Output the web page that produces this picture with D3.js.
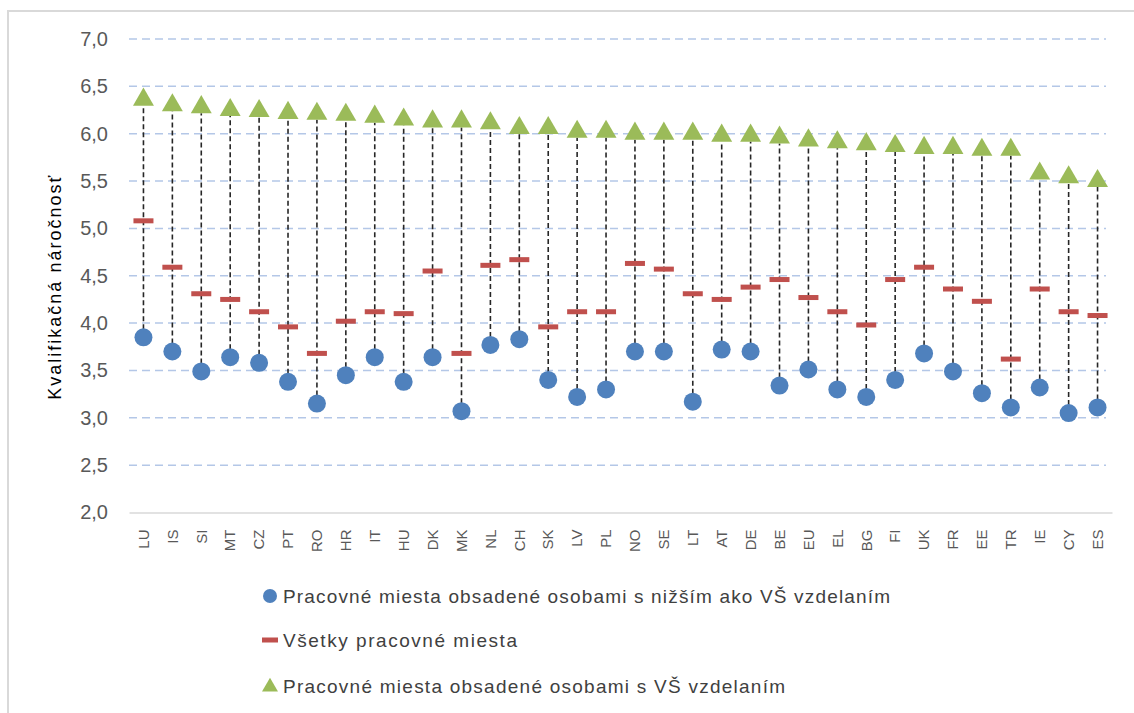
<!DOCTYPE html>
<html>
<head>
<meta charset="utf-8">
<script src="https://cdn.jsdelivr.net/npm/d3@7"></script>
<style>
  html, body { margin: 0; padding: 0; background: #fff; }
  svg { display: block; font-family: "Liberation Sans", Arial, sans-serif; }
</style>
</head>
<body>
<svg id="chart" width="1134" height="713"></svg>
<script>
const categories = ["LU","IS","SI","MT","CZ","PT","RO","HR","IT","HU","DK","MK","NL","CH","SK","LV","PL","NO","SE","LT","AT","DE","BE","EU","EL","BG","FI","UK","FR","EE","TR","IE","CY","ES"];
const lowerEdu = [3.85,3.70,3.49,3.64,3.58,3.38,3.15,3.45,3.64,3.38,3.64,3.07,3.77,3.83,3.40,3.22,3.30,3.70,3.70,3.17,3.72,3.70,3.34,3.51,3.30,3.22,3.40,3.68,3.49,3.26,3.11,3.32,3.05,3.11];
const allJobs  = [5.08,4.59,4.31,4.25,4.12,3.96,3.68,4.02,4.12,4.10,4.55,3.68,4.61,4.67,3.96,4.12,4.12,4.63,4.57,4.31,4.25,4.38,4.46,4.27,4.12,3.98,4.46,4.59,4.36,4.23,3.62,4.36,4.12,4.08];
const higherEdu = [6.36,6.30,6.28,6.25,6.24,6.22,6.21,6.20,6.18,6.15,6.13,6.13,6.11,6.06,6.06,6.02,6.02,6.00,6.00,6.00,5.98,5.98,5.96,5.93,5.91,5.89,5.87,5.85,5.85,5.83,5.83,5.58,5.54,5.50];
const yTicks = [2.0,2.5,3.0,3.5,4.0,4.5,5.0,5.5,6.0,6.5,7.0];
const legendLabels = [
  "Pracovné miesta obsadené osobami s nižším ako VŠ vzdelaním",
  "Všetky pracovné miesta",
  "Pracovné miesta obsadené osobami s VŠ vzdelaním"
];
const yTitle = "Kvalifikačná náročnosť";

const svg = d3.select("#chart");
const W = 1134, H = 713;
const plot = { left: 129, right: 1112, top: 39, bottom: 512.5 };

const colBlue = "#4f81bd", colRed = "#c0504d", colGreen = "#9bbb59";

// outer border
svg.append("rect").attr("x", 8).attr("y", 11).attr("width", W + 10).attr("height", H + 10)
  .attr("fill", "none").attr("stroke", "#d9d9d9").attr("stroke-width", 2);

const x = d3.scaleBand().domain(categories).range([plot.left, plot.right]).padding(0);
const y = d3.scaleLinear().domain([2, 7]).range([plot.bottom, plot.top]);

// gridlines
svg.append("g").selectAll("line").data(yTicks.filter(t => t > 2)).join("line")
  .attr("x1", plot.left).attr("x2", plot.right - 6)
  .attr("y1", d => y(d)).attr("y2", d => y(d))
  .attr("stroke", "#b4c7e7").attr("stroke-width", 1.5).attr("stroke-dasharray", "8,5");

// y axis labels
const fmt = d => d.toFixed(1).replace(".", ",");
const yAxis = d3.axisLeft(y).tickValues(yTicks).tickFormat(fmt).tickSize(0).tickPadding(21);
const gy = svg.append("g").attr("transform", `translate(${plot.left},0)`).call(yAxis);
gy.select(".domain").remove();
gy.selectAll("text").attr("fill", "#595959").style("font-size", "20px")
  .style("font-family", "'Liberation Sans', Arial, sans-serif");

// x axis
const xAxis = d3.axisBottom(x).tickSize(0).tickPadding(0);
const gx = svg.append("g").attr("transform", `translate(0,${plot.bottom})`).call(xAxis);
gx.select(".domain").attr("stroke", "#d9d9d9").attr("stroke-width", 1.5);
gx.selectAll("text")
  .attr("fill", "#595959").style("font-size", "15px")
  .style("font-family", "'Liberation Sans', Arial, sans-serif")
  .attr("transform", "rotate(-90)")
  .attr("text-anchor", "end")
  .attr("x", -17).attr("y", 0).attr("dy", "0.35em");

// y title
svg.append("text")
  .attr("transform", `translate(55,${(plot.top + plot.bottom) / 2 + 12}) rotate(-90)`)
  .attr("text-anchor", "middle").attr("dy", "0.35em")
  .attr("textLength", 224).attr("lengthAdjust", "spacing")
  .style("font-size", "18px").attr("fill", "#000")
  .text(yTitle);

const cx = d => x(d) + x.bandwidth() / 2;

// drop lines
svg.append("g").selectAll("line").data(categories).join("line")
  .attr("x1", cx).attr("x2", cx)
  .attr("y1", (d, i) => y(lowerEdu[i])).attr("y2", (d, i) => y(higherEdu[i]) + 6)
  .attr("stroke", "#262626").attr("stroke-width", 1.6).attr("stroke-dasharray", "5,3");

// blue circles
svg.append("g").selectAll("circle").data(categories).join("circle")
  .attr("cx", cx).attr("cy", (d, i) => y(lowerEdu[i])).attr("r", 9)
  .attr("fill", colBlue);

// red dashes
svg.append("g").selectAll("rect").data(categories).join("rect")
  .attr("x", d => cx(d) - 10).attr("y", (d, i) => y(allJobs[i]) - 2.5)
  .attr("width", 20).attr("height", 5).attr("fill", colRed);

// green triangles
const tri = d3.symbol().type(d3.symbolTriangle).size(190);
svg.append("g").selectAll("path").data(categories).join("path")
  .attr("d", tri)
  .attr("transform", (d, i) => `translate(${cx(d)},${y(higherEdu[i])})`)
  .attr("fill", colGreen);

// legend
const legendY = [596, 640, 686];
const legendW = [607, 234, 502];
const lg = svg.append("g");
legendLabels.forEach((lab, i) => {
  const ly = legendY[i];
  if (i === 0) lg.append("circle").attr("cx", 270).attr("cy", ly).attr("r", 7).attr("fill", colBlue);
  if (i === 1) lg.append("rect").attr("x", 262).attr("y", ly - 2.5).attr("width", 16).attr("height", 5).attr("fill", colRed);
  if (i === 2) lg.append("path").attr("d", d3.symbol().type(d3.symbolTriangle).size(110)).attr("transform", `translate(270,${ly + 1})`).attr("fill", colGreen);
  lg.append("text").attr("x", 283).attr("y", ly).attr("dy", "0.35em")
    .attr("textLength", legendW[i]).attr("lengthAdjust", "spacing")
    .style("font-size", "19px").attr("fill", "#404040").text(lab);
});
</script>
</body>
</html>
